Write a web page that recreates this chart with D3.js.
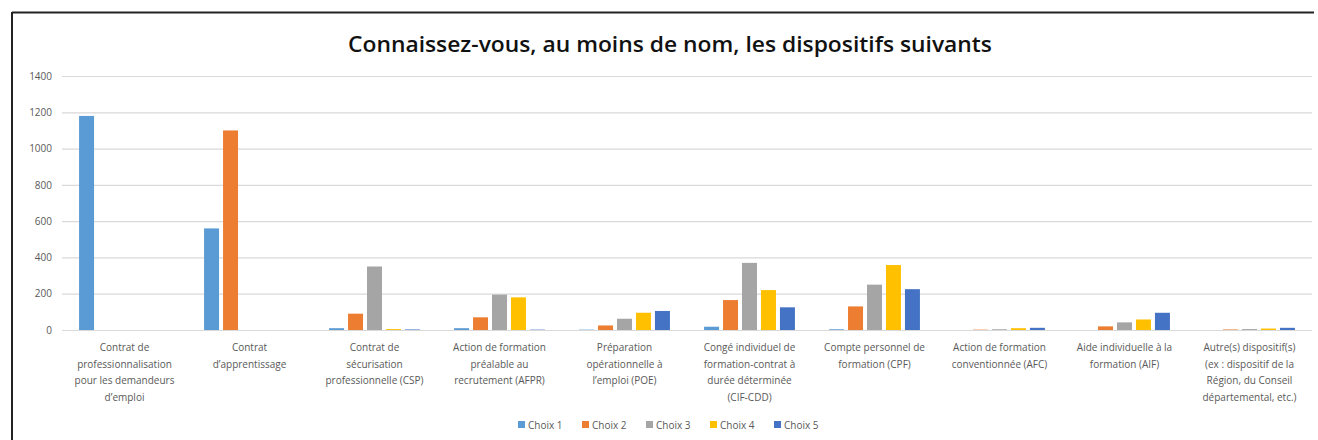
<!DOCTYPE html>
<meta charset="utf-8">
<html>
<head>
  <script src="https://cdn.jsdelivr.net/npm/d3@7"></script>
  <style>
    body { margin: 0; background: #fff; }
    .y-axis text { font-family: 'Open Sans', sans-serif; font-size: 10px; fill: #595959; }
    .y-axis path { stroke-width: 0; }
    .y-axis line { stroke: #d9d9d9; stroke-width: 1.2; }
    .cat-label { font-family: 'Open Sans', sans-serif; font-size: 10px; fill: #595959; }
    .legend text { font-family: 'Open Sans', sans-serif; font-size: 10px; fill: #595959; }
  </style>
</head>
<body>
  <script>
    // Categories (wrapped lines as in the original chart)
    var categories = [
      ['Contrat de', 'professionnalisation', 'pour les demandeurs', 'd\u2019emploi'],
      ['Contrat', 'd\u2019apprentissage'],
      ['Contrat de', 'sécurisation', 'professionnelle (CSP)'],
      ['Action de formation', 'préalable au', 'recrutement (AFPR)'],
      ['Préparation', 'opérationnelle à', 'l\u2019emploi (POE)'],
      ['Congé individuel de', 'formation-contrat à', 'durée déterminée', '(CIF-CDD)'],
      ['Compte personnel de', 'formation (CPF)'],
      ['Action de formation', 'conventionnée (AFC)'],
      ['Aide individuelle à la', 'formation (AIF)'],
      ['Autre(s) dispositif(s)', '(ex : dispositif de la', 'Région, du Conseil', 'départemental, etc.)']
    ];

    var seriesNames = ['Choix 1', 'Choix 2', 'Choix 3', 'Choix 4', 'Choix 5'];
    var colors = ['#5b9bd5', '#ed7d31', '#a5a5a5', '#ffc000', '#4472c4'];

    // values per series, one per category
    var choix1 = [1180, 560, 10, 10, 2, 18, 4, 0, 0, 0];
    var choix2 = [0, 1100, 90, 70, 25, 165, 130, 2, 20, 3];
    var choix3 = [0, 0, 350, 195, 62, 370, 250, 4, 42, 5];
    var choix4 = [0, 0, 5, 180, 95, 220, 358, 10, 58, 8];
    var choix5 = [0, 0, 3, 2, 105, 125, 225, 12, 95, 12];
    var series = [choix1, choix2, choix3, choix4, choix5];

    var yTicks = [0, 200, 400, 600, 800, 1000, 1200, 1400];

    var W = 1318, H = 440;
    var m = { top: 76, right: 6, bottom: 110, left: 62 };
    var w = W - m.left - m.right,
        h = H - m.top - m.bottom;

    var root = d3.select('body').append('svg')
      .attr('width', W)
      .attr('height', H);

    // frame (top + left edges visible in the original)
    root.append('line').attr('x1', 12).attr('x2', 1314).attr('y1', 12.5).attr('y2', 12.5)
      .attr('stroke', '#222').attr('stroke-width', 2);
    root.append('line').attr('x1', 12).attr('x2', 12).attr('y1', 12).attr('y2', H)
      .attr('stroke', '#222').attr('stroke-width', 2);

    // title
    root.append('text')
      .attr('x', 670)
      .attr('y', 52)
      .attr('text-anchor', 'middle')
      .style('font-family', "'Open Sans', sans-serif")
      .style('font-weight', 600)
      .style('font-size', '21px')
      .attr('textLength', 644)
      .attr('lengthAdjust', 'spacingAndGlyphs')
      .attr('fill', '#111')
      .text('Connaissez-vous, au moins de nom, les dispositifs suivants');

    var svg = root.append('g')
      .attr('transform', `translate(${m.left}, ${m.top})`);

    var x0 = d3.scaleBand()
      .domain(d3.range(categories.length))
      .range([0, w])
      .padding(0);

    var x1 = d3.scaleBand()
      .domain(d3.range(seriesNames.length))
      .range([0, x0.bandwidth()])
      .paddingInner(0.21)
      .paddingOuter(0.9);

    var y = d3.scaleLinear()
      .domain([0, 1400])
      .range([h, 0]);

    // grid + y labels
    svg.append('g')
      .attr('class', 'y-axis')
      .call(d3.axisLeft(y)
        .tickValues(yTicks)
        .tickFormat(d3.format('d'))
        .tickSize(-w)
        .tickPadding(10));

    // bars
    var groups = svg.selectAll('.cat')
      .data(categories)
      .enter()
      .append('g')
      .attr('class', 'cat')
      .attr('transform', (d, i) => `translate(${x0(i)}, 0)`);

    groups.selectAll('rect')
      .data((d, i) => series.map((s, j) => ({ s: j, v: s[i] })))
      .enter()
      .append('rect')
      .attr('x', d => x1(d.s))
      .attr('width', x1.bandwidth())
      .attr('y', d => y(d.v))
      .attr('height', d => h - y(d.v))
      .attr('fill', d => colors[d.s]);

    // category labels
    groups.append('text')
      .attr('class', 'cat-label')
      .attr('text-anchor', 'middle')
      .attr('x', x0.bandwidth() / 2)
      .attr('y', h + 21)
      .selectAll('tspan')
      .data(d => d)
      .enter()
      .append('tspan')
      .attr('x', x0.bandwidth() / 2)
      .attr('dy', (d, i) => i === 0 ? 0 : 16.5)
      .text(d => d);

    // legend
    var legend = root.append('g')
      .attr('class', 'legend')
      .attr('transform', 'translate(518, 425)');

    var items = legend.selectAll('g')
      .data(seriesNames)
      .enter()
      .append('g')
      .attr('transform', (d, i) => `translate(${i * 64}, 0)`);

    items.append('rect')
      .attr('x', 0)
      .attr('y', -4)
      .attr('width', 7)
      .attr('height', 7)
      .attr('fill', (d, i) => colors[i]);

    items.append('text')
      .attr('x', 10)
      .attr('y', 3.5)
      .text(d => d);
  </script>
</body>
</html>
